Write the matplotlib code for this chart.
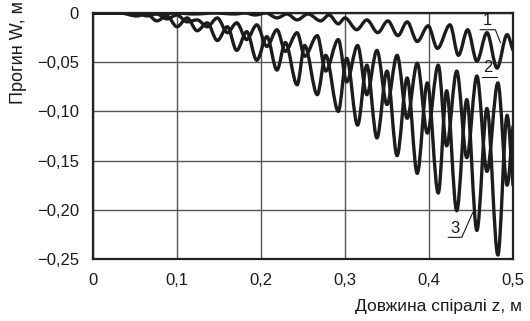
import matplotlib
matplotlib.use("Agg")
import matplotlib.pyplot as plt
from matplotlib.path import Path
from matplotlib.patches import PathPatch

plt.rcParams['font.family'] = ['Liberation Sans', 'DejaVu Sans']

# ---- data (local extrema of each curve) ----
z1 = [0, 0.038, 0.052, 0.068, 0.080, 0.098, 0.121, 0.145, 0.169, 0.181, 0.193, 0.206,
      0.219, 0.231, 0.243, 0.256, 0.271, 0.281, 0.292, 0.300, 0.314, 0.326, 0.339, 0.351,
      0.363, 0.374, 0.386, 0.399, 0.410, 0.425, 0.435, 0.446, 0.457, 0.469, 0.481, 0.493, 0.500]
w1 = [0, 0, -0.002, 0, -0.001, 0, -0.001, 0, -0.001, 0, -0.002, 0,
      -0.005, -0.001, -0.007, -0.001, -0.008, -0.002, -0.011, -0.005, -0.017, -0.007, -0.020, -0.008,
      -0.023, -0.009, -0.029, -0.013, -0.036, -0.012, -0.043, -0.017, -0.049, -0.020, -0.056, -0.022, -0.038]

z23 = [0, 0.032, 0.052, 0.064, 0.076, 0.088, 0.100, 0.112, 0.124, 0.136, 0.148, 0.160,
       0.171, 0.183, 0.195, 0.207, 0.219, 0.229, 0.243, 0.252, 0.267, 0.277, 0.292, 0.302,
       0.315, 0.326, 0.338, 0.350, 0.362, 0.374, 0.386, 0.398, 0.411, 0.421, 0.433, 0.445,
       0.457, 0.469, 0.482, 0.493, 0.500]
w2 = [0, 0, 0, -0.003, -0.001, -0.006, -0.002, -0.009, -0.007, -0.014, -0.005, -0.020,
      -0.010, -0.027, -0.012, -0.034, -0.017, -0.039, -0.020, -0.044, -0.023, -0.059, -0.027, -0.070,
      -0.033, -0.083, -0.038, -0.093, -0.043, -0.107, -0.051, -0.122, -0.053, -0.135, -0.059, -0.147,
      -0.064, -0.161, -0.071, -0.175, -0.115]
w3 = [0, 0, -0.003, -0.001, -0.008, -0.003, -0.014, -0.005, -0.018, -0.010, -0.028, -0.014,
      -0.038, -0.019, -0.048, -0.024, -0.058, -0.030, -0.073, -0.033, -0.083, -0.043, -0.100, -0.046,
      -0.114, -0.053, -0.127, -0.059, -0.145, -0.066, -0.163, -0.071, -0.183, -0.079, -0.201, -0.088,
      -0.221, -0.097, -0.246, -0.104, -0.175]

x_ticks = [0, 0.1, 0.2, 0.3, 0.4, 0.5]
x_tick_labels = ["0", "0,1", "0,2", "0,3", "0,4", "0,5"]
y_ticks = [0, -0.05, -0.10, -0.15, -0.20, -0.25]
y_tick_labels = ["0", "\u22120,05", "\u22120,10", "\u22120,15", "\u22120,20", "\u22120,25"]

x_label = "Довжина спіралі z, м"
y_label = "Прогин W, м"

curve_names = ["1", "2", "3"]


def smooth_path(xs, ys):
    """Cubic Hermite/Bezier path through the points, flat tangents at extrema."""
    n = len(xs)
    slopes = []
    for i in range(n):
        if i == 0:
            s = (ys[1] - ys[0]) / (xs[1] - xs[0])
        elif i == n - 1:
            s = (ys[-1] - ys[-2]) / (xs[-1] - xs[-2])
        else:
            d0 = ys[i] - ys[i - 1]
            d1 = ys[i + 1] - ys[i]
            if d0 * d1 <= 0:
                s = 0.0
            else:
                s = 0.5 * (d0 / (xs[i] - xs[i - 1]) + d1 / (xs[i + 1] - xs[i]))
        slopes.append(s)
    verts = [(xs[0], ys[0])]
    codes = [Path.MOVETO]
    for i in range(n - 1):
        dx = xs[i + 1] - xs[i]
        c1 = (xs[i] + dx / 3, ys[i] + slopes[i] * dx / 3)
        c2 = (xs[i + 1] - dx / 3, ys[i + 1] - slopes[i + 1] * dx / 3)
        verts += [c1, c2, (xs[i + 1], ys[i + 1])]
        codes += [Path.CURVE4] * 3
    return Path(verts, codes)


fig = plt.figure(figsize=(5.30, 3.21), dpi=100)
ax = fig.add_axes([93 / 530, 1 - 259 / 321, 420 / 530, 246 / 321])

ax.set_xlim(0, 0.5)
ax.set_ylim(-0.25, 0)

line_color = "#1c1c1c"
for xs, ys in [(z1, w1), (z23, w2), (z23, w3)]:
    patch = PathPatch(smooth_path(xs, ys), facecolor="none", edgecolor=line_color,
                      lw=2.4, transform=ax.transData, zorder=3, capstyle="round",
                      joinstyle="round")
    ax.add_patch(patch)

ax.set_xticks(x_ticks)
ax.set_xticklabels(x_tick_labels)
ax.set_yticks(y_ticks)
ax.set_yticklabels(y_tick_labels)
ax.tick_params(length=0, labelsize=12, colors="#1a1a1a")
ax.tick_params(axis="x", pad=10)
ax.tick_params(axis="y", pad=10)
ax.grid(True, color="#555555", lw=1.0)
ax.set_axisbelow(True)
for sp in ax.spines.values():
    sp.set_color("#222222")
    sp.set_linewidth(1.6)

fig.text(522 / 530, 1 - 307 / 321, x_label, ha="right", va="center", fontsize=12.5,
         color="#1a1a1a")
fig.text(19 / 530, 1 - 1 / 321, y_label, ha="center", va="top", rotation=90,
         fontsize=13, color="#1a1a1a")

# curve labels with underline and leader
label_specs = [
    # text x, underline y, underline x0, x1, leader end (x, y)
    (0.470, -0.017, 0.461, 0.479, (0.485, -0.030)),
    (0.470, -0.065, 0.463, 0.481, None),
    (0.431, -0.228, 0.423, 0.439, (0.452, -0.203)),
]
for name, (tx, uy, ux0, ux1, lead) in zip(curve_names, label_specs):
    ax.text(tx, uy + 0.0015, name, ha="center", va="bottom", fontsize=12,
            color="#1a1a1a", zorder=5)
    xs_l = [ux0, ux1]
    ys_l = [uy, uy]
    if lead is not None:
        xs_l.append(lead[0])
        ys_l.append(lead[1])
    ax.plot(xs_l, ys_l, color="#1a1a1a", lw=0.8, zorder=5)

fig.savefig("out.png", dpi=100)
